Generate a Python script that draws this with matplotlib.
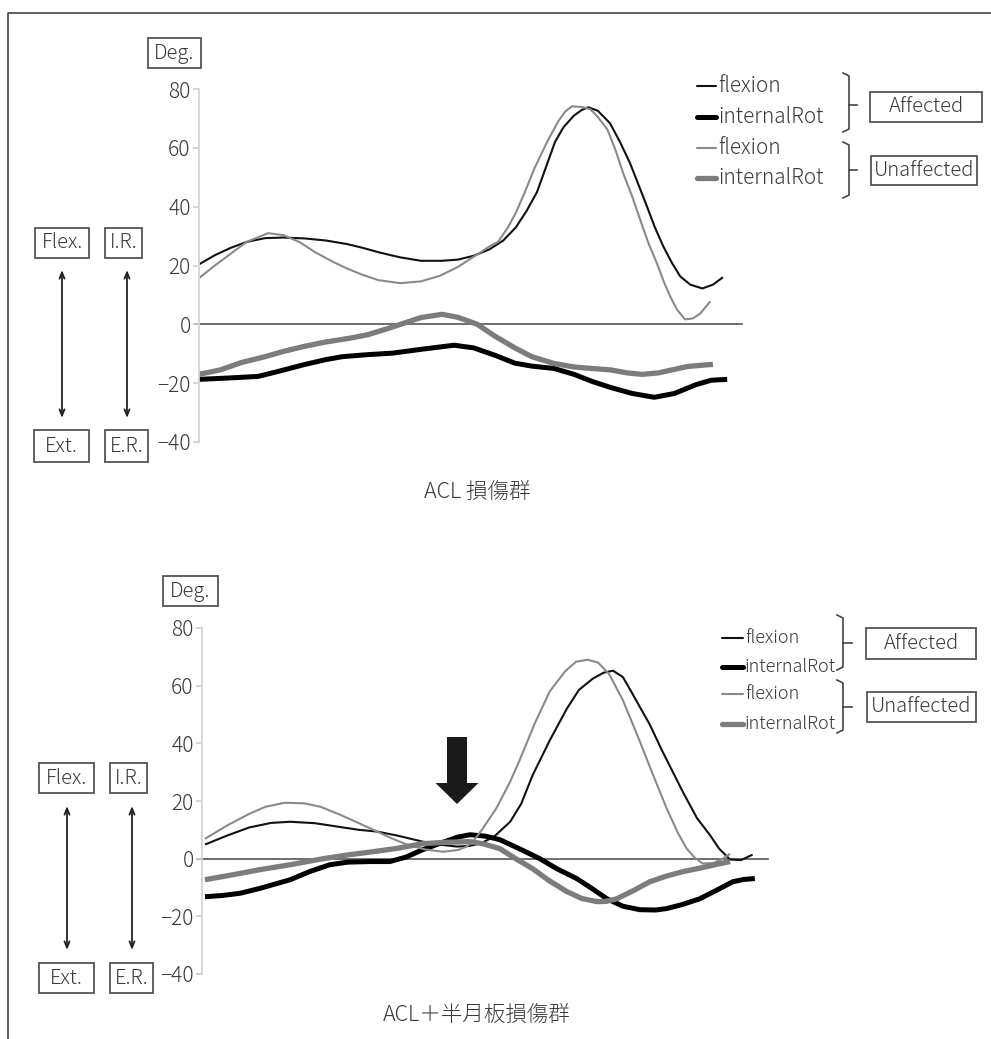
import matplotlib
matplotlib.use("Agg")
import matplotlib.pyplot as plt
from matplotlib.patches import Rectangle, FancyArrow

plt.rcParams["font.family"] = ["Noto Sans CJK JP", "DejaVu Sans"]

# ---- data: top panel (ACL 損傷群), x = % of cycle ----
top_flex_aff_t = [0, 3, 6, 9, 12.5, 16, 20, 24, 28, 31, 34, 38, 42, 46, 49, 52, 55, 57.6, 60, 62, 64,
                  66, 67.4, 69, 71, 72.5, 73.7, 75.5, 77.8, 79.7, 81.6, 83.2, 84.8, 86.3, 87.9, 89.5,
                  91.1, 93, 95.3, 97.3, 99.2]
top_flex_aff = [20.4, 23.5, 26, 28, 29.3, 29.5, 29.2, 28.5, 27.3, 26, 24.5, 22.8, 21.6, 21.6, 22, 23.3,
                25.5, 28.5, 33, 38.5, 45, 55, 62, 67, 71, 72.9, 73.8, 72.6, 68.4, 62, 54.8, 47.5, 40.1,
                33, 26.5, 21, 16.3, 13.5, 12.2, 13.5, 16]
top_flex_unaff_t = [0, 3, 6, 9, 13.1, 16, 19, 22, 25.4, 28, 30.7, 34, 38.1, 42, 45.6, 49, 52.7, 55, 56.6,
                    58.5, 60, 61.7, 63.5, 65.9, 68, 69.3, 70.6, 72.5, 74.1, 75.5, 77.3, 78.8, 80.3, 82,
                    83.5, 85, 86.7, 88, 89.2, 90.5, 92, 93.5, 94.9, 96.8]
top_flex_unaff = [15.7, 20, 24, 28, 31, 30.3, 28, 24.5, 21.2, 19, 17, 15, 14, 14.6, 16.5, 19.5, 23.8,
                  26.5, 28, 33, 38, 45, 53, 62, 69, 72.3, 74.1, 73.9, 73.1, 70.5, 66.3, 59.5, 51.4,
                  43.5, 35.7, 28, 20.7, 14.5, 9.5, 5, 1.7, 2, 3.7, 7.8]
top_rot_aff_t = [0, 5, 11.2, 15, 19.9, 24, 27.1, 32, 36.6, 42, 48.3, 52, 56, 59.8, 63, 67.2, 71, 74.4,
                 78, 82, 86.2, 90, 94.1, 97, 100]
top_rot_aff = [-18.7, -18.3, -17.7, -16, -13.7, -12, -11, -10.3, -9.8, -8.5, -7.1, -8, -10.5, -13.2,
               -14.2, -15, -17, -19.4, -21.5, -23.5, -24.8, -23.5, -20.5, -19, -18.7]
top_rot_unaff_t = [0, 4, 8, 12.5, 16, 19.9, 24, 28.6, 32, 35.8, 39, 42, 46, 49, 52.7, 56, 59.8, 63,
                   67.2, 71, 74.4, 78, 81, 83.9, 87, 90, 92.6, 97.3]
top_rot_unaff = [-17, -15.5, -13, -11, -9.2, -7.5, -6, -4.7, -3.5, -1.4, 0.5, 2.3, 3.4, 2.4, 0, -4, -8,
                 -11, -13.3, -14.5, -15, -15.5, -16.5, -17, -16.5, -15.3, -14.3, -13.6]

# ---- data: bottom panel (ACL＋半月板損傷群) ----
bot_flex_aff_t = [0, 4, 8, 12, 15.5, 20, 24.5, 28, 31.3, 35, 39.6, 43, 45.8, 48, 50, 52.5, 55.5, 57.5,
                  59.6, 62.7, 65.8, 68, 70.5, 72.5, 74.2, 76, 77.8, 80.9, 83, 86.9, 89.5, 91.8, 93.5,
                  95.5, 97.5, 99.6]
bot_flex_aff = [4.9, 8, 10.8, 12.4, 12.8, 12.3, 11, 10, 9.4, 8, 5.9, 4.8, 4.2, 4.4, 5.2, 7.5, 12.8, 19,
                29, 41, 52, 58.5, 62.4, 64.5, 65.2, 63, 57, 46.5, 38, 23.2, 14, 8.3, 3.5, -0.3, -0.5,
                1.4]
bot_flex_unaff_t = [0, 4, 8, 11, 14.5, 18, 21, 24.5, 28, 31.3, 34, 36.7, 40, 43.3, 46, 47.6, 49, 50.5,
                    53, 55.5, 57.3, 60, 62.7, 65.5, 67.5, 69.6, 71.5, 73.5, 76, 79.1, 81.5, 84, 86,
                    87.6, 89, 90.5, 92.5, 94, 95.5]
bot_flex_unaff = [6.9, 11.5, 15.5, 18, 19.4, 19.2, 18, 15.3, 12.3, 9.4, 7, 4.9, 3.2, 2.4, 3, 4.2, 6.5,
                  10.4, 17.5, 26.7, 34.5, 47, 58, 65, 68.3, 69, 68, 64, 55, 40.6, 29, 17.3, 9, 3.5, 0.5,
                  -1.7, -1.5, -0.2, 1.7]
bot_rot_aff_t = [0, 3, 6.4, 10, 15.5, 19, 22.7, 26, 30, 33.6, 36.5, 39.6, 43, 46, 48.2, 51, 53.6, 57,
                 60.9, 64, 67.6, 70.5, 73.1, 76, 79.1, 82, 84, 87, 90, 93, 96, 98, 100]
bot_rot_aff = [-13.2, -12.8, -12, -10.3, -7.3, -4.5, -2.1, -1.2, -1, -1, 0.5, 3.1, 5.5, 7.5, 8.3, 7.8,
               6.6, 3.6, 0, -3.5, -6.9, -10.5, -13.9, -16.5, -17.7, -17.8, -17.3, -15.8, -13.9, -11,
               -8, -7.2, -6.9]
bot_rot_unaff_t = [0, 5, 10, 15.5, 21.5, 26, 30.5, 35, 39.6, 44, 48.2, 50.5, 53.6, 56.5, 59.6, 62.5,
                   65.8, 68.5, 71.3, 73, 74.9, 78, 80.9, 84, 86.9, 90, 93, 95.5]
bot_rot_unaff = [-7.3, -5.6, -3.8, -2.1, 0, 1.3, 2.4, 3.6, 5.2, 5.7, 5.9, 5.2, 3.5, 0, -3.5, -7.5,
                 -11.4, -13.8, -14.9, -14.8, -13.9, -11, -8, -6, -4.5, -3.3, -2, -1]

y_ticks = [-40, -20, 0, 20, 40, 60, 80]
legend_labels = ["flexion", "internalRot", "flexion", "internalRot"]
group_labels = ["Affected", "Unaffected"]

STYLES = [
    dict(color="#111111", lw=1.5),   # affected flexion
    dict(color="#000000", lw=3.6),   # affected internalRot
    dict(color="#8a8a8a", lw=1.5),   # unaffected flexion
    dict(color="#7c7c7c", lw=3.8),   # unaffected internalRot
]
TEXT_C = "#3a3a3a"

W, H = 991, 1039
fig = plt.figure(figsize=(W / 100, H / 100), dpi=100)

# overlay in pixel coordinates for boxes, legend and frame
deco = fig.add_axes([0, 0, 1, 1])
deco.set_xlim(0, W)
deco.set_ylim(H, 0)
deco.axis("off")
deco.plot([8, 8, W], [H, 13, 13], color="#444444", lw=1.2, solid_capstyle="butt")


def px_axes(left, right, top, bottom):
    return fig.add_axes([left / W, 1 - bottom / H, (right - left) / W, (bottom - top) / H])


def box(x0, y0, x1, y1, text, size=14.5):
    deco.add_patch(Rectangle((x0, y0), x1 - x0, y1 - y0, fill=False, ec="#555555", lw=1.3))
    deco.text((x0 + x1) / 2, (y0 + y1) / 2, text, ha="center", va="center",
              fontsize=size, color=TEXT_C, fontweight="light")


def double_arrow(x, y0, y1):
    deco.annotate("", xy=(x, y0), xytext=(x, y1),
                  arrowprops=dict(arrowstyle="<->,head_length=0.45,head_width=0.18",
                                  color="#222222", lw=1.3, shrinkA=0, shrinkB=0))


def bracket(x, y0, y1, ym, tick=8):
    deco.plot([x - 6, x, x, x - 6], [y0, y0 + 3, y1 - 3, y1], color="#444444", lw=1.2)
    deco.plot([x, x + tick], [ym, ym], color="#444444", lw=1.2)


def draw_panel(ax, xmax, series, x0):
    for (t, v), st in zip(series, STYLES):
        ax.plot(t, v, solid_capstyle="butt", solid_joinstyle="round", **st)
    ax.axhline(0, color="#555555", lw=1.2, xmin=-0.008, clip_on=False, zorder=0)
    ax.set_xlim(x0, xmax)
    ax.set_ylim(-40, 80)
    ax.set_facecolor("none")
    for side in ["top", "right", "bottom"]:
        ax.spines[side].set_visible(False)
    ax.spines["left"].set_color("#d4d4d4")
    ax.spines["left"].set_linewidth(1.3)
    ax.set_xticks([])
    ax.set_yticks(y_ticks)
    ax.set_yticklabels([f"\u2212{abs(v)}" if v < 0 else str(v) for v in y_ticks],
                       fontweight="light")
    ax.tick_params(axis="y", length=4, width=1.2, color="#cccccc", labelcolor=TEXT_C,
                   labelsize=15, pad=2)


def legend(x_line0, x_line1, ys, size):
    for y, lab, st in zip(ys, legend_labels, STYLES):
        deco.plot([x_line0, x_line1], [y, y], solid_capstyle="round", **st)
        deco.text(x_line1 + 2, y, lab, ha="left", va="center", fontsize=size, color=TEXT_C,
                  fontweight="light")


# ---- top panel ----
ax1 = px_axes(199, 742, 89, 442)
draw_panel(ax1, 102.8, [(top_flex_aff_t, top_flex_aff), (top_rot_aff_t, top_rot_aff),
                        (top_flex_unaff_t, top_flex_unaff), (top_rot_unaff_t, top_rot_unaff)], 0)
box(148, 38, 201, 68, "Deg.")
box(35, 228, 89, 258, "Flex.")
box(105, 228, 142, 258, "I.R.")
box(34, 430, 89, 462, "Ext.")
box(105, 430, 148, 462, "E.R.")
double_arrow(62, 270, 418)
double_arrow(127, 270, 418)
legend(697, 716, [86, 117, 148, 178], 15)
bracket(849, 73, 132, 105)
bracket(849, 142, 198, 170)
box(870, 92, 982, 122, group_labels[0])
box(871, 156, 977, 185, group_labels[1])
deco.text(477, 492, "ACL 損傷群", ha="center", va="center", fontsize=15.5, color=TEXT_C,
          fontweight="light")

# ---- bottom panel ----
ax2 = px_axes(202, 768, 628, 974)
draw_panel(ax2, 102.4, [(bot_flex_aff_t, bot_flex_aff), (bot_rot_aff_t, bot_rot_aff),
                        (bot_flex_unaff_t, bot_flex_unaff), (bot_rot_unaff_t, bot_rot_unaff)], -0.55)
box(163, 576, 218, 606, "Deg.")
box(39, 763, 94, 793, "Flex.")
box(110, 763, 147, 793, "I.R.")
box(39, 963, 94, 993, "Ext.")
box(110, 963, 153, 993, "E.R.")
double_arrow(67, 806, 950)
double_arrow(132, 806, 950)
legend(722, 743, [638, 667, 694, 724], 13)
bracket(843, 615, 670, 643, tick=9)
bracket(843, 680, 733, 707, tick=9)
box(866, 628, 976, 659, group_labels[0])
box(867, 692, 976, 722, group_labels[1])
deco.add_patch(FancyArrow(457, 737, 0, 67, width=20, head_width=43, head_length=21,
                          length_includes_head=True, color="#1a1a1a", lw=0))
deco.text(477, 1015, "ACL＋半月板損傷群", ha="center", va="center", fontsize=15.5, color=TEXT_C,
          fontweight="light")

fig.savefig("out.png", dpi=100)
